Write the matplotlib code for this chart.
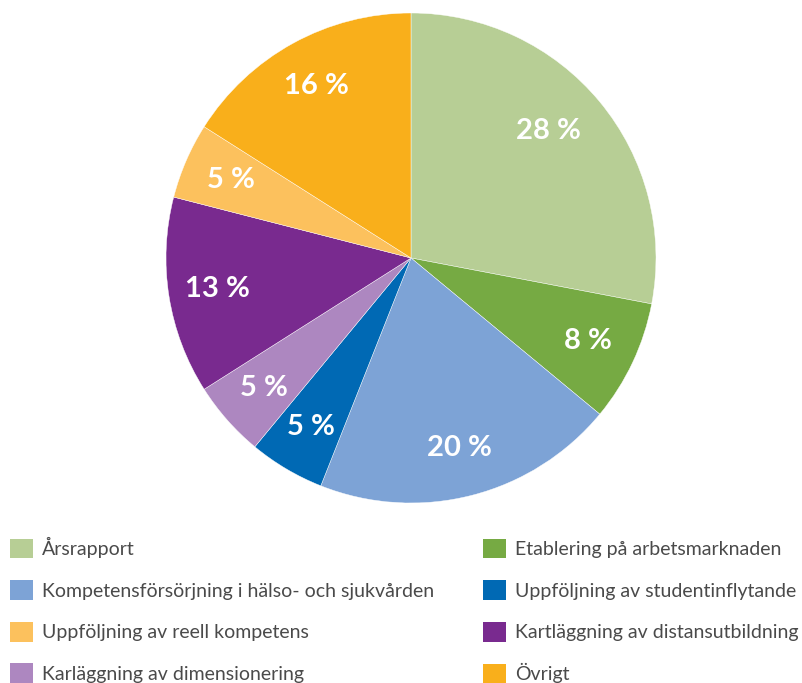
import matplotlib
matplotlib.use("Agg")
import matplotlib.pyplot as plt
from matplotlib.patches import Patch

# data, clockwise from 12 o'clock
labels = ["Årsrapport", "Etablering på arbetsmarknaden",
          "Kompetensförsörjning i hälso- och sjukvården",
          "Uppföljning av studentinflytande", "Karläggning av dimensionering",
          "Kartläggning av distansutbildning", "Uppföljning av reell kompetens",
          "Övrigt"]
shares = [28, 8, 20, 5, 5, 13, 5, 16]
colors = ["#B7CE95", "#76AA43", "#7DA3D6", "#0069B4",
          "#AD87C0", "#792A8F", "#FCC15D", "#F9AF1B"]
# legend order (two columns, row by row as in the original)
legend_order = [0, 2, 6, 4, 1, 3, 5, 7]

plt.rcParams['font.family'] = ['Lato', 'DejaVu Sans']

fig = plt.figure(figsize=(8.02, 6.83), dpi=100)
W, H = 802, 683
cx, cy, r = 411, 258, 245
ax = fig.add_axes([(cx - r) / W, (H - cy - r) / H, 2 * r / W, 2 * r / H])

wedges, texts, autotexts = ax.pie(
    shares, colors=colors, startangle=90, counterclock=False,
    autopct=lambda p: f"{round(p)} %", pctdistance=0.8,
    wedgeprops=dict(edgecolor="white", linewidth=0.3),
    textprops=dict(color="white", fontsize=21, fontweight="bold"))
autotexts[0].set_position((0.56, 0.52))
ax.set_xlim(-1, 1)
ax.set_ylim(-1, 1)
ax.set_aspect("equal")
ax.axis("off")

handles = [Patch(facecolor=colors[i], edgecolor="none") for i in legend_order]
names = [labels[i] for i in legend_order]
leg = fig.legend(handles, names, ncol=2, loc="upper left",
                 bbox_to_anchor=(10 / W, (H - 537) / H), frameon=False,
                 prop=dict(size=14, weight="normal"),
                 handlelength=1.19, handleheight=1.19, handletextpad=0.47,
                 labelspacing=1.12, columnspacing=2.5, borderpad=0,
                 borderaxespad=0)
for t in leg.get_texts():
    t.set_color("#4A4A4A")

fig.savefig("out.png", dpi=100)
